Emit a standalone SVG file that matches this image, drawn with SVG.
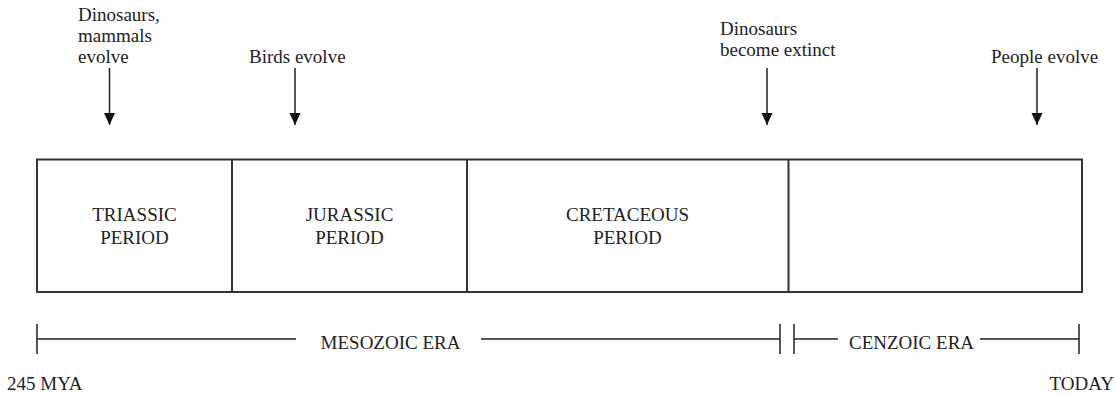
<svg xmlns="http://www.w3.org/2000/svg" width="1115" height="396" viewBox="0 0 1115 396">
  <style>
    .t { font-size: 19px; fill: #222; }
    .c { text-anchor: middle; }
    .ln { stroke: #222; stroke-width: 1.5; fill: none; }
    .box { stroke: #333; stroke-width: 2; fill: #fff; }
  </style>
  <defs>
    <marker id="ah" markerUnits="userSpaceOnUse" markerWidth="13" markerHeight="12" refX="12" refY="5.5" orient="auto">
      <path d="M0,0 L12,5.5 L0,11 z" fill="#111"/>
    </marker>
  </defs>
  <rect width="1115" height="396" fill="#fff"/>

  <g font-family="Liberation Serif, Times New Roman, serif">
  <g id="event-dinosaurs-mammals">
    <text class="t" x="78" y="21">Dinosaurs,</text>
    <text class="t" x="78" y="42">mammals</text>
    <text class="t" x="78" y="63">evolve</text>
  </g>
  <g id="event-birds">
    <text class="t" x="249" y="63">Birds evolve</text>
  </g>
  <g id="event-extinct">
    <text class="t" x="720" y="35">Dinosaurs</text>
    <text class="t" x="720" y="56">become extinct</text>
  </g>
  <g id="event-people">
    <text class="t" x="991" y="63">People evolve</text>
  </g>

  <g id="periods">
    <rect class="box" x="37" y="159.5" width="1045" height="132.5"/>
    <g id="triassic">
      <text class="t c" x="134.5" y="221">TRIASSIC</text>
      <text class="t c" x="134.5" y="244">PERIOD</text>
    </g>
    <g id="jurassic">
      <line class="box" x1="232" y1="159.5" x2="232" y2="292"/>
      <text class="t c" x="349.5" y="221">JURASSIC</text>
      <text class="t c" x="349.5" y="244">PERIOD</text>
    </g>
    <g id="cretaceous">
      <line class="box" x1="467" y1="159.5" x2="467" y2="292"/>
      <text class="t c" x="627.5" y="221">CRETACEOUS</text>
      <text class="t c" x="627.5" y="244">PERIOD</text>
    </g>
    <g id="cenozoic-period">
      <line class="box" x1="788.5" y1="159.5" x2="788.5" y2="292"/>
    </g>
  </g>

  <g id="connectors">
    <line class="ln" x1="109.5" y1="68" x2="109.5" y2="125" marker-end="url(#ah)"/>
    <line class="ln" x1="295" y1="68" x2="295" y2="125" marker-end="url(#ah)"/>
    <line class="ln" x1="767" y1="68" x2="767" y2="125" marker-end="url(#ah)"/>
    <line class="ln" x1="1037" y1="68" x2="1037" y2="125" marker-end="url(#ah)"/>
  </g>

  <g id="mesozoic-era">
    <line class="ln" x1="37" y1="324" x2="37" y2="354"/>
    <line class="ln" x1="37" y1="339" x2="296" y2="339"/>
    <text class="t c" x="390.5" y="349">MESOZOIC ERA</text>
    <line class="ln" x1="481" y1="339" x2="780" y2="339"/>
    <line class="ln" x1="780" y1="324" x2="780" y2="354"/>
  </g>
  <g id="cenozoic-era">
    <line class="ln" x1="794" y1="324" x2="794" y2="354"/>
    <line class="ln" x1="794" y1="339" x2="838" y2="339"/>
    <text class="t c" x="911.5" y="349">CENZOIC ERA</text>
    <line class="ln" x1="980" y1="339" x2="1079" y2="339"/>
    <line class="ln" x1="1079" y1="324" x2="1079" y2="354"/>
  </g>

  <g id="labels">
    <text class="t" x="7" y="390">245 MYA</text>
    <text class="t" x="1114" y="390" text-anchor="end">TODAY</text>
  </g>
  </g>
</svg>
